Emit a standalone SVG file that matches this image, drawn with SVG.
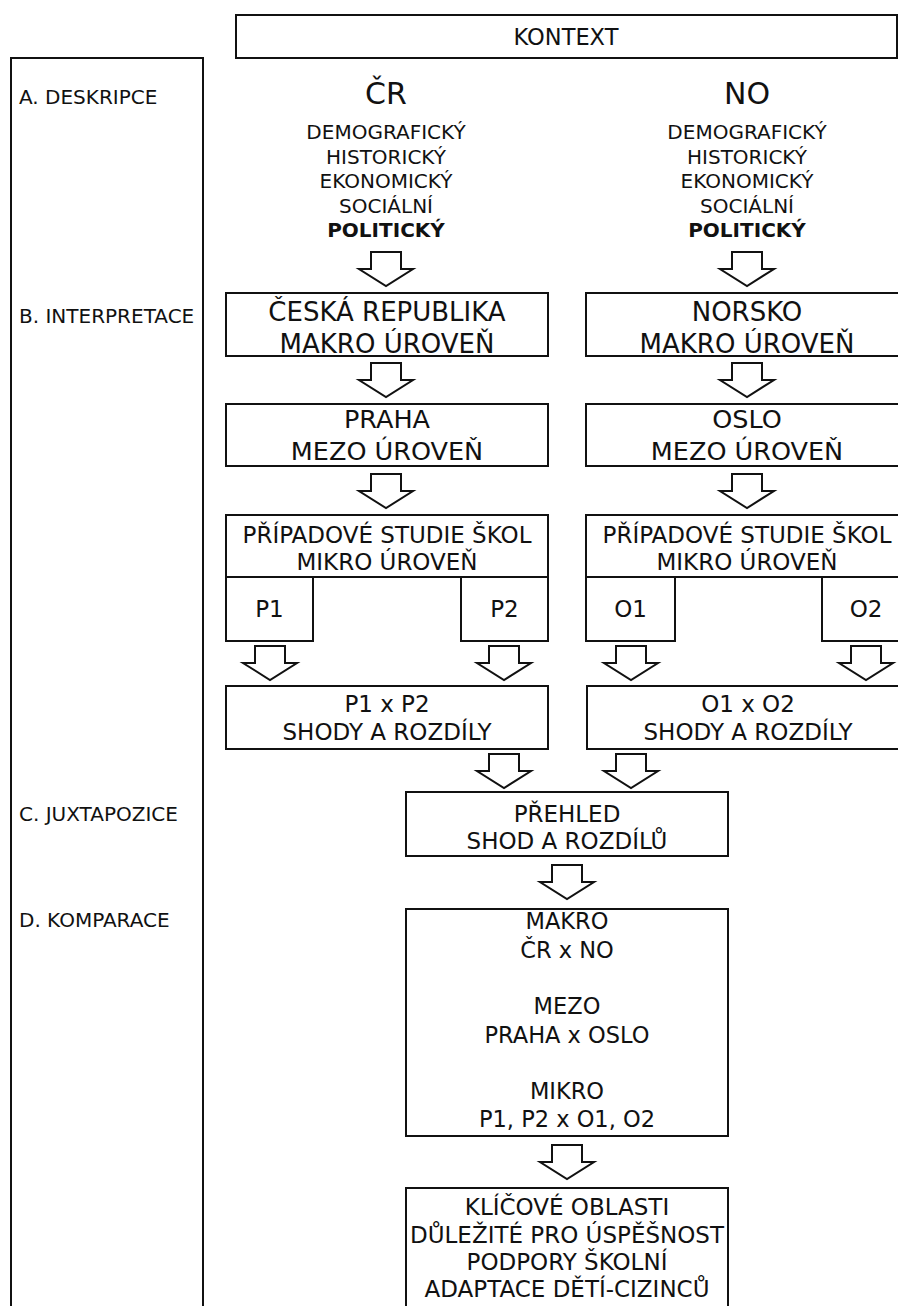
<svg xmlns="http://www.w3.org/2000/svg" xmlns:xlink="http://www.w3.org/1999/xlink" width="898" height="1306" viewBox="0 0 898 1306">
<style>
.box{fill:#fff;stroke:#111;stroke-width:2}
.arr{fill:#fff;stroke:#111;stroke-width:2;stroke-linejoin:miter}
text{font-family:"DejaVu Sans",Verdana,sans-serif;fill:#111;text-anchor:middle}
.lab{text-anchor:start;font-size:20px}
.ctx{font-size:20px}
.b26{font-size:26px}
.b25{font-size:25.5px}
.b23{font-size:23px}
.b22{font-size:22.5px}
</style>
<defs>
<path id="arrow" class="arr" d="M-15,0 H15 V17 H27 L0,34 L-27,17 H-15 Z"/>
</defs>
<rect width="898" height="1306" fill="#fff"/>
<g id="kontext">
<rect class="box" x="236" y="15" width="661" height="43"/>
<text x="566" y="45" style="font-size:22.5px">KONTEXT</text>
</g>
<g id="phases">
<rect class="box" x="11" y="58" width="192" height="1300"/>
<text class="lab" x="19" y="104">A. DESKRIPCE</text>
<text class="lab" x="19" y="323">B. INTERPRETACE</text>
<text class="lab" x="19" y="821">C. JUXTAPOZICE</text>
<text class="lab" x="19" y="927">D. KOMPARACE</text>
</g>
<g id="cr-context">
<text x="386" y="104" style="font-size:30px">ČR</text>
<text class="ctx" x="386" y="139">DEMOGRAFICKÝ</text>
<text class="ctx" x="386" y="163.5">HISTORICKÝ</text>
<text class="ctx" x="386" y="188">EKONOMICKÝ</text>
<text class="ctx" x="386" y="212.5">SOCIÁLNÍ</text>
<text class="ctx" x="386" y="237" font-weight="bold">POLITICKÝ</text>
</g>
<g id="no-context">
<text x="747" y="104" style="font-size:30px">NO</text>
<text class="ctx" x="747" y="139">DEMOGRAFICKÝ</text>
<text class="ctx" x="747" y="163.5">HISTORICKÝ</text>
<text class="ctx" x="747" y="188">EKONOMICKÝ</text>
<text class="ctx" x="747" y="212.5">SOCIÁLNÍ</text>
<text class="ctx" x="747" y="237" font-weight="bold">POLITICKÝ</text>
</g>
<g id="cr-makro">
<rect class="box" x="226" y="293" width="322" height="63"/>
<text class="b26" x="387" y="321">ČESKÁ REPUBLIKA</text>
<text class="b26" x="387" y="353">MAKRO ÚROVEŇ</text>
</g>
<g id="no-makro">
<rect class="box" x="586" y="293" width="322" height="63"/>
<text class="b26" x="747" y="321">NORSKO</text>
<text class="b26" x="747" y="353">MAKRO ÚROVEŇ</text>
</g>
<g id="praha">
<rect class="box" x="226" y="404" width="322" height="62"/>
<text class="b25" x="387" y="428">PRAHA</text>
<text class="b25" x="387" y="460">MEZO ÚROVEŇ</text>
</g>
<g id="oslo">
<rect class="box" x="586" y="404" width="322" height="62"/>
<text class="b25" x="747" y="428">OSLO</text>
<text class="b25" x="747" y="460">MEZO ÚROVEŇ</text>
</g>
<g id="cr-mikro">
<rect class="box" x="226" y="515" width="322" height="62"/>
<text class="b23" x="387" y="543">PŘÍPADOVÉ STUDIE ŠKOL</text>
<text class="b23" x="387" y="570">MIKRO ÚROVEŇ</text>
</g>
<g id="no-mikro">
<rect class="box" x="586" y="515" width="322" height="62"/>
<text class="b23" x="747" y="543">PŘÍPADOVÉ STUDIE ŠKOL</text>
<text class="b23" x="747" y="570">MIKRO ÚROVEŇ</text>
</g>
<g id="p1">
<rect class="box" x="226" y="577" width="87" height="64"/>
<text class="b23" x="269.5" y="617">P1</text>
</g>
<g id="p2">
<rect class="box" x="461" y="577" width="87" height="64"/>
<text class="b23" x="504.5" y="617">P2</text>
</g>
<g id="o1">
<rect class="box" x="586" y="577" width="89" height="64"/>
<text class="b23" x="630.5" y="617">O1</text>
</g>
<g id="o2">
<rect class="box" x="822" y="577" width="87" height="64"/>
<text class="b23" x="866" y="617">O2</text>
</g>
<g id="p1xp2">
<rect class="box" x="226" y="686" width="322" height="63"/>
<text class="b23" x="387" y="712">P1 x P2</text>
<text class="b23" x="387" y="740">SHODY A ROZDÍLY</text>
</g>
<g id="o1xo2">
<rect class="box" x="587" y="686" width="322" height="63"/>
<text class="b23" x="748" y="712">O1 x O2</text>
<text class="b23" x="748" y="740">SHODY A ROZDÍLY</text>
</g>
<g id="prehled">
<rect class="box" x="406" y="792" width="322" height="64"/>
<text class="b23" x="567" y="822">PŘEHLED</text>
<text class="b23" x="567" y="849">SHOD A ROZDÍLŮ</text>
</g>
<g id="komparace">
<rect class="box" x="406" y="909" width="322" height="227"/>
<text class="b22" x="567" y="929">MAKRO</text>
<text class="b22" x="567" y="958">ČR x NO</text>
<text class="b22" x="567" y="1014">MEZO</text>
<text class="b22" x="567" y="1043">PRAHA x OSLO</text>
<text class="b22" x="567" y="1099">MIKRO</text>
<text class="b22" x="567" y="1127">P1, P2 x O1, O2</text>
</g>
<g id="klicove">
<rect class="box" x="406" y="1188" width="322" height="140"/>
<text class="b23" x="567" y="1215">KLÍČOVÉ OBLASTI</text>
<text class="b23" x="567" y="1243">DŮLEŽITÉ PRO ÚSPĚŠNOST</text>
<text class="b23" x="567" y="1270">PODPORY ŠKOLNÍ</text>
<text class="b23" x="567" y="1297">ADAPTACE DĚTÍ-CIZINCŮ</text>
</g>
<g id="connectors">
<use xlink:href="#arrow" x="386" y="252"/>
<use xlink:href="#arrow" x="747" y="252"/>
<use xlink:href="#arrow" x="386" y="363"/>
<use xlink:href="#arrow" x="747" y="363"/>
<use xlink:href="#arrow" x="386" y="474"/>
<use xlink:href="#arrow" x="747" y="474"/>
<use xlink:href="#arrow" x="270" y="646"/>
<use xlink:href="#arrow" x="504" y="646"/>
<use xlink:href="#arrow" x="631" y="646"/>
<use xlink:href="#arrow" x="866" y="646"/>
<use xlink:href="#arrow" x="504" y="754"/>
<use xlink:href="#arrow" x="631" y="754"/>
<use xlink:href="#arrow" x="567" y="865"/>
<use xlink:href="#arrow" x="567" y="1145"/>
</g>
</svg>
